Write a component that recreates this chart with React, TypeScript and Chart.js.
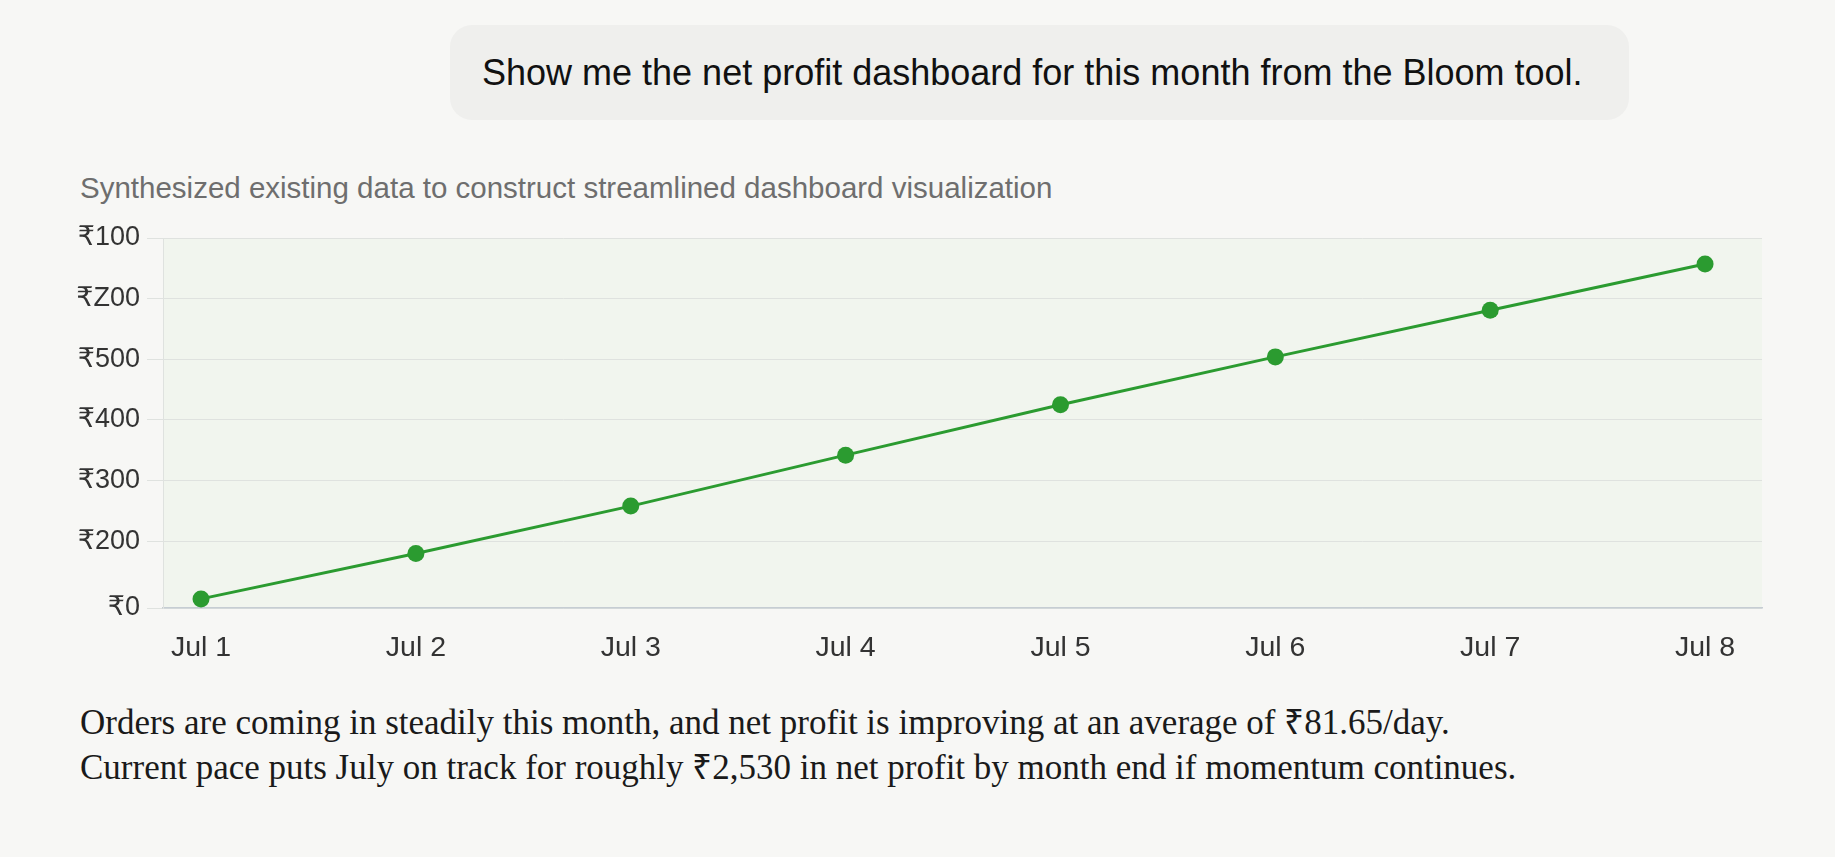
import React, { useEffect, useRef } from "react";
import Chart from "chart.js/auto";

const dayLabels = ["Jul 1", "Jul 2", "Jul 3", "Jul 4", "Jul 5", "Jul 6", "Jul 7", "Jul 8"];
const dayIndex = [1, 2, 3, 4, 5, 6, 7, 8];
const netProfit = [15, 90, 168, 252, 335, 414, 491, 567];
const yTickValues = [0, 110, 210, 310, 410, 510, 610];
const yTickLabels = ["₹0", "₹200", "₹300", "₹400", "₹500", "₹Z00", "₹100"];

const GREEN = "#2b9b30";
const SANS = "'Liberation Sans', Arial, 'DejaVu Sans', sans-serif";

const plotBg = {
  id: "plotBg",
  beforeDraw(chart: any) {
    const { ctx, chartArea } = chart;
    if (!chartArea) return;
    ctx.save();
    ctx.fillStyle = "#f1f5ee";
    ctx.fillRect(chartArea.left, chartArea.top, chartArea.right - chartArea.left, chartArea.bottom - chartArea.top);
    ctx.restore();
  },
};

function LineChart() {
  const ref = useRef<HTMLCanvasElement | null>(null);
  useEffect(() => {
    if (!ref.current) return;
    const chart = new Chart(ref.current, {
      type: "line",
      data: {
        datasets: [
          {
            data: dayIndex.map((x, i) => ({ x, y: netProfit[i] })),
            borderColor: GREEN,
            backgroundColor: GREEN,
            borderWidth: 3,
            pointRadius: 8.5,
            pointHoverRadius: 8.5,
            pointBorderWidth: 0,
            pointBackgroundColor: GREEN,
            tension: 0,
            fill: false,
          },
        ],
      },
      options: {
        responsive: false,
        animation: false,
        layout: { padding: { left: 63, right: 73, top: 38, bottom: 12 } },
        plugins: { legend: { display: false }, tooltip: { enabled: false }, title: { display: false } },
        scales: {
          x: {
            type: "linear",
            min: 0.823,
            max: 8.265,
            afterBuildTicks: (scale: any) => {
              scale.ticks = dayIndex.map((v) => ({ value: v }));
            },
            afterFit: (scale: any) => {
              scale.height = 60;
            },
            grid: { display: false },
            border: { display: true, color: "#c6cdd3", width: 1.5 },
            ticks: {
              autoSkip: false,
              maxRotation: 0,
              padding: 15,
              color: "#333333",
              font: { family: SANS, size: 28.5 },
              callback: (v: any) => dayLabels[dayIndex.indexOf(Number(v))] ?? "",
            },
          },
          y: {
            type: "linear",
            min: 0,
            max: 610,
            afterBuildTicks: (scale: any) => {
              scale.ticks = yTickValues.map((v) => ({ value: v }));
            },
            afterFit: (scale: any) => {
              scale.width = 100;
            },
            grid: { color: "#dfe2df", lineWidth: 1, tickLength: 16, drawTicks: true },
            border: { display: true, color: "#dfe2df", width: 1 },
            ticks: {
              padding: 7,
              color: "#333333",
              font: { family: SANS, size: 27 },
              callback: (_v: any, i: number) => yTickLabels[i] ?? "",
            },
          },
        },
      },
      plugins: [plotBg],
    } as any);
    return () => chart.destroy();
  }, []);
  return (
    <canvas
      ref={ref}
      width={1835}
      height={480}
      style={{ position: "absolute", left: 0, top: 200, width: 1835, height: 480 }}
    />
  );
}

export default function App() {
  return (
    <div style={{ position: "fixed", inset: 0, background: "#f7f7f5", overflow: "hidden" }}>
      <div
        style={{
          position: "absolute",
          left: 450,
          top: 25,
          width: 1179,
          height: 95,
          borderRadius: 22,
          background: "#efefed",
          display: "flex",
          alignItems: "center",
          boxSizing: "border-box",
          paddingLeft: 32,
          fontFamily: SANS,
          fontSize: 36,
          color: "#111",
          whiteSpace: "nowrap",
        }}
      >
        Show me the net profit dashboard for this month from the Bloom tool.
      </div>
      <div
        style={{
          position: "absolute",
          left: 80,
          top: 171,
          fontFamily: SANS,
          fontSize: 29.5,
          lineHeight: "34px",
          color: "#6e6e6e",
          whiteSpace: "nowrap",
        }}
      >
        Synthesized existing data to construct streamlined dashboard visualization
      </div>
      <LineChart />
      <div
        style={{
          position: "absolute",
          left: 80,
          top: 700,
          fontFamily: "'Liberation Serif', 'Times New Roman', serif",
          fontSize: 35,
          lineHeight: "45px",
          color: "#1a1a1a",
          whiteSpace: "nowrap",
        }}
      >
        <div>Orders are coming in steadily this month, and net profit is improving at an average of ₹81.65/day.</div>
        <div>Current pace puts July on track for roughly ₹2,530 in net profit by month end if momentum continues.</div>
      </div>
    </div>
  );
}
